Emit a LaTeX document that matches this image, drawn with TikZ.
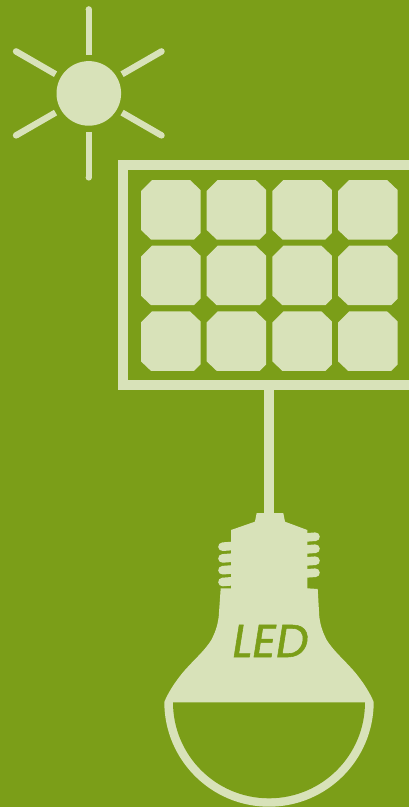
\documentclass[tikz,border=0pt]{standalone}
\usepackage{xcolor}
\usepackage{fontspec}
\usetikzlibrary{calc}
\newfontfamily\ledfont[FakeSlant=0.16,FakeBold=1.2]{Poppins}
\definecolor{leafgreen}{HTML}{7B9E18}
\definecolor{palegreen}{HTML}{D8E2B9}
\begin{document}
\begin{tikzpicture}[
    x=1pt, y=-1pt,
    ray/.style={draw=palegreen, line width=6.4pt},
    rib/.style={draw=palegreen, line width=8.6pt, line cap=round},
    wire/.style={draw=palegreen, line width=10pt},
    solid part/.style={fill=palegreen},
    hollow/.style={fill=leafgreen}
  ]
    \path[use as bounding box, clip] (0,0) rectangle (409,807);
    \fill[leafgreen] (0,0) rectangle (409,807);

    % sun
    \coordinate (sun) at (88.8,93.4);
    \fill[solid part] (sun) circle (32.3);
    \foreach \ang in {30,90,150,210,270,330} {
      \draw[ray] ($(sun)+(\ang:38.4)$) -- ($(sun)+(\ang:84)$);
      \fill[solid part] ($(sun)+(\ang:84)$) circle (3.2);
    }

    % panel
    \draw[wire] (420,165) -- (123.3,165) -- (123.3,385) -- (420,385);
    \foreach \row in {0,1,2}
      \foreach \col in {0,1,2,3}
        \fill[solid part, shift={(141+65.7*\col,180+65.7*\row)}]
          (11,0) -- (49,0) -- (59.5,10) -- (59.5,53) -- (53,59.5)
          -- (10,59.5) -- (0,50) -- (0,11) -- cycle;
    \coordinate (panelout) at (269,390);
    \coordinate (lampin) at (269,515);
    \draw[wire] (panelout) -- (lampin);

    % lamp
    \foreach \ypos in {546.7,558.4,570.2,582}
      \draw[rib] (233,\ypos-0.8) -- (222.5,\ypos);
    \foreach \ypos in {536.7,548.7,560.7,572.7}
      \draw[rib] (305,\ypos+0.8) -- (315.5,\ypos);
    \fill[solid part] (256.7,513) -- (283.3,513) -- (285,521.7) -- (307.3,530) -- (307.3,588.3)
      -- (317.7,589) -- (319.3,616.7) .. controls (320.5,626) and (323,633) .. (326.7,640)
      .. controls (333,650) and (342,658) .. (350,666.7)
      .. controls (358,675) and (369,690) .. (373.7,702)
      arc[start angle=0, end angle=180, radius=104.7]
      .. controls (169,690) and (180,675) .. (188,666.7)
      .. controls (196,658) and (205,650) .. (211.3,640)
      .. controls (215,633) and (217.5,626) .. (218.7,616.7)
      -- (220.7,588.3) -- (231,588.3) -- (231,530) -- (254.9,521.7) -- cycle;
    \fill[hollow] (365,702.3) arc[start angle=0, end angle=180, radius=96] -- cycle;
    \node[text=leafgreen, font=\ledfont\fontsize{46}{46}\selectfont, inner sep=0pt] (led) at (268.5,641) {LED};
  \end{tikzpicture}
\end{document}
